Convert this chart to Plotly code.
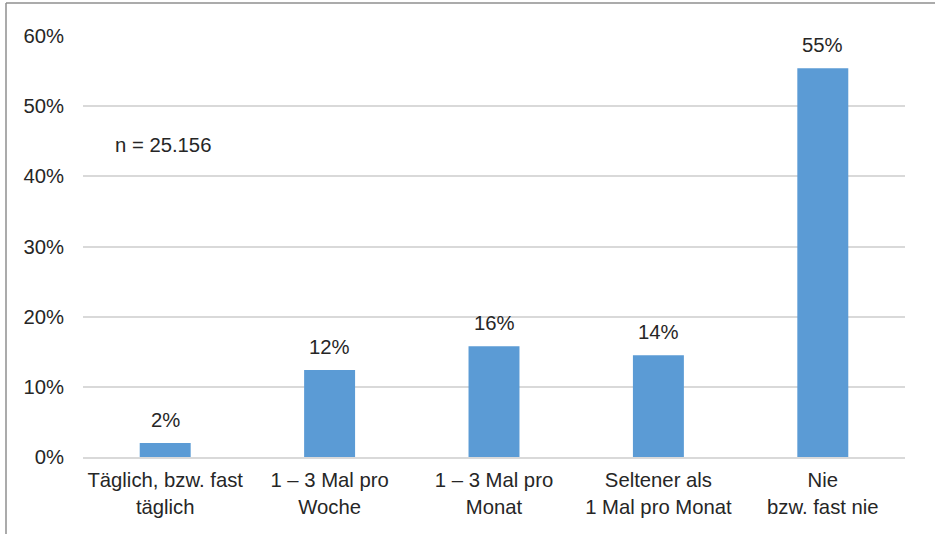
import plotly.graph_objects as go

categories = ["Täglich, bzw. fast<br>täglich", "1 – 3 Mal pro<br>Woche", "1 – 3 Mal pro<br>Monat",
              "Seltener als<br>1 Mal pro Monat", "Nie<br>bzw. fast nie"]
values = [2.0, 12.4, 15.8, 14.5, 55.4]
labels = ["2%", "12%", "16%", "14%", "55%"]
yticks = [0, 10, 20, 30, 40, 50, 60]
ytick_text = ["0%", "10%", "20%", "30%", "40%", "50%", "60%"]
note = "n = 25.156"

W, H = 935, 534
L, R, T, B = 83, 30, 36, 77
FONT = "Liberation Sans, Arial, sans-serif"
FS = 20.3

fig = go.Figure(go.Bar(x=categories, y=values, marker=dict(color="#5B9BD5", line=dict(width=0)),
                       width=0.31, hoverinfo="skip"))

for c, v, t in zip(categories, values, labels):
    fig.add_annotation(x=c, y=v, text=t, showarrow=False, yanchor="bottom", yshift=10,
                       font=dict(family=FONT, size=FS, color="#262626"))

fig.add_annotation(xref="paper", yref="paper", x=(113 - L) / (W - L - R), y=(457 - 145) / (H - T - B),
                   xanchor="left", yanchor="middle", text=note, showarrow=False,
                   font=dict(family=FONT, size=FS, color="#262626"))

pw = W - L - R
ph = H - T - B
px = lambda v: (v - L) / pw
py = lambda v: (H - B - v) / ph
fig.add_shape(type="line", xref="paper", yref="paper", x0=px(6), x1=px(6), y0=py(3), y1=py(540),
              line=dict(color="#8f8f8f", width=1.5))
fig.add_shape(type="line", xref="paper", yref="paper", x0=px(6), x1=px(940), y0=py(3), y1=py(3),
              line=dict(color="#8f8f8f", width=1.5))

fig.update_layout(
    width=W, height=H, margin=dict(l=L, r=R, t=T, b=B, pad=0),
    plot_bgcolor="white", paper_bgcolor="white", showlegend=False,
    font=dict(family=FONT, size=FS, color="#262626"),
    xaxis=dict(showgrid=False, showline=True, linecolor="#d9d9d9", linewidth=2, ticks="",
               ticklabelstandoff=4,
               tickfont=dict(family=FONT, size=FS, color="#262626"), fixedrange=True),
    yaxis=dict(range=[0, 60], tickvals=yticks, ticktext=ytick_text, showgrid=True, gridcolor="#d9d9d9",
               gridwidth=1.5, zeroline=False, showline=False, ticks="", ticklabelstandoff=18,
               tickfont=dict(family=FONT, size=FS, color="#262626"), fixedrange=True),
)
fig.write_html("out.html", config={"displayModeBar": False})
